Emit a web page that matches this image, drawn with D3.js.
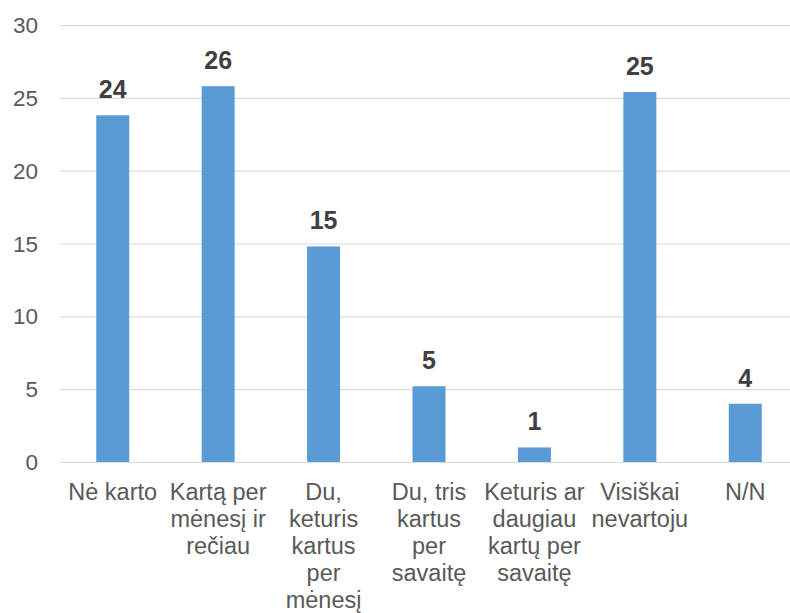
<!DOCTYPE html>
<html>
<head>
<meta charset="utf-8">
<script src="https://cdn.jsdelivr.net/npm/d3@7"></script>
<style>
  html, body { margin: 0; padding: 0; background: #fff; }
  svg { display: block; font-family: "Liberation Sans", Arial, sans-serif; }
</style>
</head>
<body>
<svg id="chart" width="790" height="613"></svg>
<script>
// Category labels (line breaks as shown under each bar)
const categories = [
  "Nė karto",
  "Kartą per\nmėnesį ir\nrečiau",
  "Du,\nketuris\nkartus\nper\nmėnesį",
  "Du, tris\nkartus\nper\nsavaitę",
  "Keturis ar\ndaugiau\nkartų per\nsavaitę",
  "Visiškai\nnevartoju",
  "N/N"
];
// Percentages per answer
const values = [23.8, 25.8, 14.8, 5.2, 1.0, 25.4, 4.0];
// Y-axis ticks
const yTicks = [0, 5, 10, 15, 20, 25, 30];

(function draw() {
  const svg = d3.select("#chart");
  const plotLeft = 60, plotRight = 798, plotTop = 25, plotBottom = 462;

  const x = d3.scaleBand().domain(categories).range([plotLeft, plotRight]).padding(0);
  const y = d3.scaleLinear().domain([0, 30]).range([plotBottom, plotTop]);
  const barW = x.bandwidth() * 0.313;

  // Horizontal gridlines
  svg.append("g")
    .selectAll("line")
    .data(yTicks)
    .join("line")
    .attr("x1", plotLeft).attr("x2", 790)
    .attr("y1", d => y(d) + 0.5).attr("y2", d => y(d) + 0.5)
    .attr("stroke", "#d9d9d9").attr("stroke-width", 1.2);

  // Y tick labels
  svg.append("g")
    .selectAll("text")
    .data(yTicks)
    .join("text")
    .attr("x", 38)
    .attr("y", d => y(d) + 8)
    .attr("text-anchor", "end")
    .attr("font-size", 22.5)
    .attr("fill", "#595959")
    .text(d => d);

  // Bars
  svg.append("g")
    .selectAll("rect")
    .data(values)
    .join("rect")
    .attr("x", (d, i) => x(categories[i]) + x.bandwidth() / 2 - barW / 2)
    .attr("y", d => y(d))
    .attr("width", barW)
    .attr("height", d => y(0) - y(d))
    .attr("fill", "#5b9bd5");

  // Value labels above bars
  svg.append("g")
    .selectAll("text")
    .data(values)
    .join("text")
    .attr("x", (d, i) => x(categories[i]) + x.bandwidth() / 2)
    .attr("y", d => y(d) - 17)
    .attr("text-anchor", "middle")
    .attr("font-size", 25)
    .attr("font-weight", "bold")
    .attr("fill", "#404040")
    .text(d => d3.format(".0f")(d));

  // Category labels under the axis
  const cat = svg.append("g")
    .selectAll("text")
    .data(categories)
    .join("text")
    .attr("text-anchor", "middle")
    .attr("font-size", 23.5)
    .attr("fill", "#595959");
  cat.each(function(d) {
    const cx = x(d) + x.bandwidth() / 2;
    d3.select(this).selectAll("tspan")
      .data(d.split("\n"))
      .join("tspan")
      .attr("x", cx)
      .attr("y", (s, j) => 500 + j * 27)
      .text(s => s);
  });
})();
</script>
</body>
</html>
